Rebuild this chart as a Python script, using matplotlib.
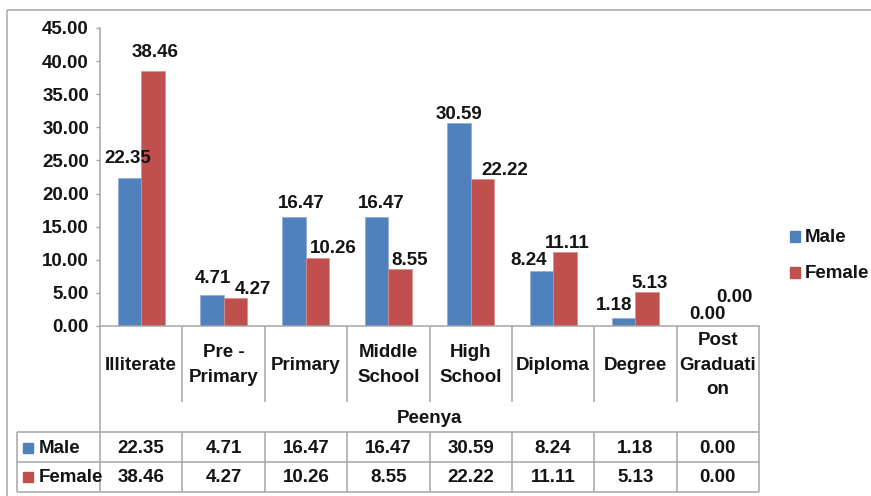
import matplotlib.pyplot as plt
from matplotlib.patches import Rectangle
from matplotlib.transforms import blended_transform_factory

categories = ["Illiterate", "Pre -\nPrimary", "Primary", "Middle\nSchool", "High\nSchool",
              "Diploma", "Degree", "Post\nGraduati\non"]
male = [22.35, 4.71, 16.47, 16.47, 30.59, 8.24, 1.18, 0.00]
female = [38.46, 4.27, 10.26, 8.55, 22.22, 11.11, 5.13, 0.00]
series = ["Male", "Female"]
group = "Peenya"
yticks = [0, 5, 10, 15, 20, 25, 30, 35, 40, 45]

# value label nudges in pixels (dx, dy above bar top), keeps labels apart
male_nudge = [(-2, 15), (1, 12), (7, 9), (5, 9), (0, 4), (-13, 6), (-10, 8), (1, 7)]
female_nudge = [(2, 14), (18, 4), (16, 5), (10, 4), (22, 4), (2, 4), (2, 4), (5, 24)]

BLUE = "#4F81BD"
RED = "#C0504D"
GRID = "#A6A6A6"
TXT = "#141414"
FS = 13.5

plt.rcParams["font.family"] = ["Liberation Sans", "DejaVu Sans"]
plt.rcParams["font.weight"] = "bold"

W, H = 871, 496
fig = plt.figure(figsize=(W / 100, H / 100), dpi=100)

# plot area in pixel terms
L, R, T, B = 100, 759, 28, 326
ax = fig.add_axes([L / W, 1 - B / H, (R - L) / W, (B - T) / H])

# overlay in pixel coords for table grid and legend
ov = fig.add_axes([0, 0, 1, 1], zorder=-1)
ov.set_xlim(0, W)
ov.set_ylim(H, 0)
ov.axis("off")

n = len(categories)
x = list(range(n))
bw = 0.285
ax.bar([i - bw / 2 for i in x], male, bw, color=BLUE, edgecolor="#8EA9D3", linewidth=0.5, zorder=2)
ax.bar([i + bw / 2 for i in x], female, bw, color=RED, edgecolor="#D9908E", linewidth=0.5, zorder=2)

for i in x:
    for val, off, s in ((male[i], male_nudge[i], -1), (female[i], female_nudge[i], 1)):
        ax.annotate(f"{val:.2f}", (i + s * bw / 2, val), xytext=off, textcoords="offset pixels",
                    ha="center", va="baseline", fontsize=FS, fontweight="bold", color=TXT,
                    annotation_clip=False)

ax.set_xlim(-0.5, n - 0.5)
ax.set_ylim(0, 45)
ax.set_yticks(yticks)
ax.set_yticklabels([f"{v:.2f}" for v in yticks])
ax.set_xticks([])
ax.tick_params(axis="y", direction="out", length=3, width=1, color=GRID, pad=5,
               labelsize=FS, labelcolor=TXT)
for sp in ("top", "right"):
    ax.spines[sp].set_visible(False)
for sp in ("left", "bottom"):
    ax.spines[sp].set_color(GRID)
    ax.spines[sp].set_linewidth(1.1)
ax.patch.set_alpha(0)

# data table below the axis
bt = blended_transform_factory(ax.transData, ov.transData)
lk = dict(color=GRID, linewidth=1.1, solid_capstyle="butt")
ROW_LBL, ROW_GRP, ROW_M, ROW_F = 402, 432, 462, 492
for i in range(1, n):
    ov.plot([i - 0.5, i - 0.5], [B, ROW_LBL], transform=bt, **lk)
    ov.plot([i - 0.5, i - 0.5], [ROW_GRP, ROW_F], transform=bt, **lk)
for xe in (-0.5, n - 0.5):
    ov.plot([xe, xe], [B, ROW_F], transform=bt, **lk)
for yy in (ROW_GRP, ROW_M, ROW_F):
    ov.plot([17, R], [yy, yy], **lk)
ov.plot([17, 17], [ROW_GRP, ROW_F], **lk)

# chart frame
ov.plot([7, W], [10, 10], **lk)
ov.plot([7, 7], [10, H], **lk)

for i, c in enumerate(categories):
    ov.text(i, 365, c, transform=bt, ha="center", va="center", fontsize=FS,
            fontweight="bold", color=TXT, linespacing=1.55)
ov.text((n - 1) / 2, 423, group, transform=bt, ha="center", va="baseline",
        fontsize=FS, fontweight="bold", color=TXT)
for vals, yb in ((male, 453), (female, 482)):
    for i, v in enumerate(vals):
        ov.text(i, yb, f"{v:.2f}", transform=bt, ha="center", va="baseline",
                fontsize=FS, fontweight="bold", color=TXT)

# row headers and legend
for name, col, yb in ((series[0], BLUE, 453), (series[1], RED, 482)):
    ov.add_patch(Rectangle((23, yb - 10.5), 10, 10, color=col))
    ov.text(39, yb, name, ha="left", va="baseline", fontsize=FS, fontweight="bold", color=TXT)
for name, col, yc in ((series[0], BLUE, 236), (series[1], RED, 272)):
    ov.add_patch(Rectangle((790, yc - 5), 10, 10.5, color=col))
    ov.text(805, yc + 6.5, name, ha="left", va="baseline", fontsize=FS, fontweight="bold", color=TXT)

fig.savefig("out.png", dpi=100)
